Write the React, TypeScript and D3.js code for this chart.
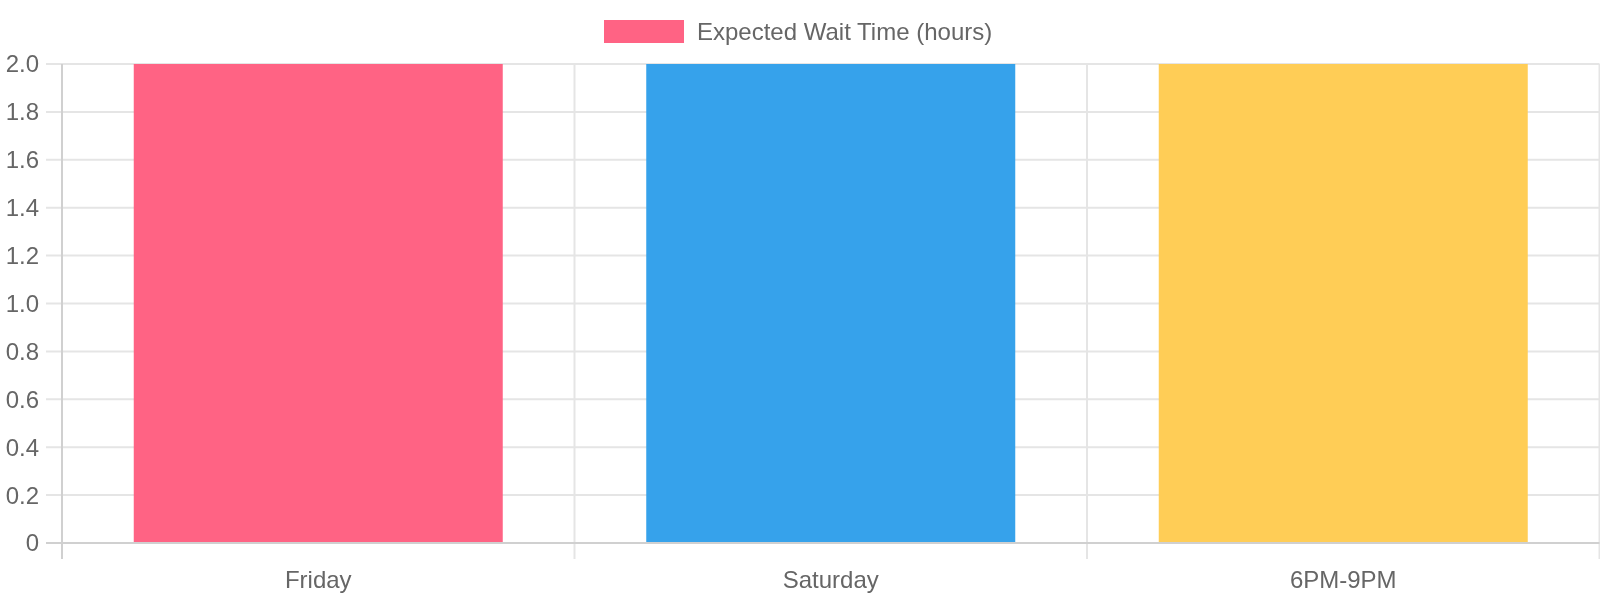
import * as d3 from 'd3';

const categories = ['Friday', 'Saturday', '6PM-9PM'];
const waitHours = [2, 2, 2];
const barColors = ['#ff6384', '#36a2eb', '#ffcd56'];
const yTicks = [0, 0.2, 0.4, 0.6, 0.8, 1.0, 1.2, 1.4, 1.6, 1.8, 2.0];
const legendLabel = 'Expected Wait Time (hours)';

const width = 1600;
const height = 600;
const margin = { top: 64, right: 0.5, bottom: 57, left: 62 };
const font = '"Liberation Sans", Arial, sans-serif';
const textColor = '#666';
const fontSize = 24;

const App = () => {
  const x = d3.scaleBand<string>()
    .domain(categories)
    .range([margin.left, width - margin.right]);

  const y = d3.scaleLinear()
    .domain([0, 2])
    .range([height - margin.bottom, margin.top]);

  const band = x.bandwidth();
  const barW = band * 0.72;
  const bottom = y(0);
  // category edges for vertical grid + tick marks
  const edges = categories.map(c => x(c)!).concat([width - margin.right]);

  return (
    <div style={{ position: 'fixed', left: 0, top: 0 }}>
      <svg width={width} height={height} style={{ display: 'block', fontFamily: font }}>
        {/* legend */}
        <rect x={604} y={20} width={80} height={23} fill={barColors[0]} />
        <text x={697} y={32} dy="0.35em" fontSize={fontSize} fill={textColor}>{legendLabel}</text>

        {/* horizontal grid */}
        {yTicks.map(t => (
          <g key={t}>
            <line x1={margin.left - 16} x2={width - margin.right} y1={y(t)} y2={y(t)}
              stroke={t === 0 ? '#d0d0d0' : '#e5e5e5'} strokeWidth={2} />
            <text x={39} y={y(t)} dy="0.35em" textAnchor="end" fontSize={fontSize} fill={textColor}>
              {t === 0 ? '0' : d3.format('.1f')(t)}
            </text>
          </g>
        ))}

        {/* vertical grid */}
        {edges.map((e, i) => (
          <line key={i} x1={e} x2={e} y1={margin.top} y2={bottom + 16}
            stroke={i === 0 ? '#d0d0d0' : '#e5e5e5'} strokeWidth={2} />
        ))}

        {/* bars */}
        {categories.map((c, i) => (
          <rect key={c}
            x={x(c)! + (band - barW) / 2}
            y={y(waitHours[i])}
            width={barW}
            height={bottom - y(waitHours[i])}
            fill={barColors[i]} />
        ))}

        {/* axis line on top */}
        <line x1={margin.left} x2={width - margin.right} y1={bottom} y2={bottom} stroke="#d0d0d0" strokeWidth={2} />

        {/* x labels */}
        {categories.map(c => (
          <text key={c} x={x(c)! + band / 2} y={580} dy="0.35em" textAnchor="middle" fontSize={fontSize} fill={textColor}>
            {c}
          </text>
        ))}
      </svg>
    </div>
  );
};

export default App;
